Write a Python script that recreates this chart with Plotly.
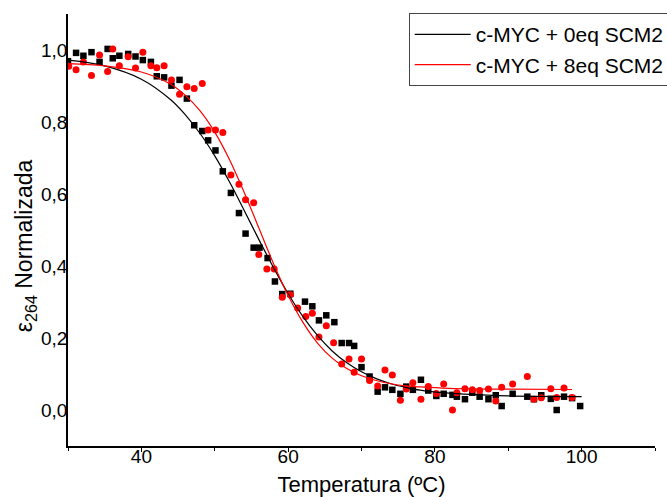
import plotly.graph_objects as go

# Measured points: c-MYC + 0eq SCM2 (black squares)
t_0eq = [30.0, 31.1, 32.1, 33.2, 34.3, 35.4, 36.1, 37.0, 38.2, 39.2, 40.2, 41.3, 42.1, 43.1,
         44.1, 45.2, 46.2, 47.2, 48.3, 49.1, 50.1, 51.1, 52.2, 53.3, 54.2, 55.3, 56.1, 57.2,
         58.2, 59.2, 60.3, 62.3, 63.3, 64.2, 65.2, 66.3, 67.3, 68.3, 69.0, 70.0, 71.1, 72.2,
         73.2, 74.2, 75.3, 76.1, 77.0, 78.1, 79.1, 80.2, 81.2, 82.4, 83.0, 84.1, 85.1, 86.1,
         87.3, 88.3, 89.1, 90.6, 92.6, 93.5, 94.5, 95.8, 96.6, 97.6, 98.7, 99.8]
e_0eq = [0.969, 0.992, 0.984, 0.994, 0.967, 1.003, 0.977, 0.984, 0.989, 0.982, 0.972, 0.967,
         0.927, 0.924, 0.901, 0.917, 0.865, 0.791, 0.775, 0.749, 0.721, 0.663, 0.603, 0.547,
         0.490, 0.451, 0.451, 0.422, 0.357, 0.322, 0.323, 0.301, 0.288, 0.249, 0.263, 0.244,
         0.186, 0.186, 0.178, 0.119, 0.093, 0.051, 0.063, 0.056, 0.045, 0.065, 0.056, 0.084,
         0.054, 0.039, 0.045, 0.042, 0.037, 0.030, 0.048, 0.037, 0.030, 0.041, 0.011, 0.045,
         0.037, 0.030, 0.041, 0.031, 0.000, 0.037, 0.033, 0.011]

# Measured points: c-MYC + 8eq SCM2 (red circles)
t_8eq = [30.1, 31.1, 32.1, 33.2, 34.3, 35.4, 36.1, 37.0, 38.2, 39.2, 40.2, 41.3, 42.1, 43.1,
         44.1, 45.2, 46.2, 47.2, 48.3, 49.1, 50.1, 51.1, 52.2, 53.3, 54.2, 55.3, 56.0, 57.1,
         58.1, 59.2, 60.3, 61.3, 62.4, 63.3, 64.2, 65.2, 66.2, 67.3, 68.3, 69.0, 70.0, 71.1,
         72.2, 73.2, 74.2, 75.3, 76.1, 77.0, 78.1, 79.1, 80.2, 81.2, 82.4, 83.0, 84.1, 85.1,
         86.1, 87.3, 88.3, 89.1, 90.6, 92.6, 93.5, 94.5, 95.8, 96.6, 97.6, 98.7]
e_8eq = [0.955, 0.945, 0.967, 0.929, 0.986, 0.940, 1.003, 0.956, 0.981, 0.950, 0.994, 0.956,
         0.951, 0.956, 0.917, 0.877, 0.898, 0.893, 0.907, 0.778, 0.778, 0.771, 0.653, 0.627,
         0.584, 0.576, 0.432, 0.392, 0.392, 0.313, 0.320, 0.283, 0.260, 0.269, 0.203, 0.234,
         0.187, 0.128, 0.142, 0.105, 0.142, 0.082, 0.067, 0.111, 0.097, 0.027, 0.058, 0.076,
         0.030, 0.065, 0.046, 0.072, 0.000, 0.048, 0.059, 0.056, 0.054, 0.058, 0.025, 0.063,
         0.072, 0.093, 0.030, 0.034, 0.059, 0.035, 0.061, 0.035]

# Fitted curves
fit_t_0eq = [30, 35, 40, 44, 46, 48, 50, 52, 54, 56, 58, 60, 62, 64, 66, 68, 70, 72, 74, 76,
             78, 81, 84, 90, 100]
fit_e_0eq = [0.972, 0.956, 0.919, 0.862, 0.820, 0.768, 0.706, 0.634, 0.555, 0.474, 0.396,
             0.323, 0.260, 0.207, 0.164, 0.131, 0.106, 0.087, 0.073, 0.063, 0.055, 0.048,
             0.044, 0.039, 0.037]
fit_t_8eq = [30, 35, 40, 44, 46, 48, 50, 52, 54, 56, 58, 60, 62, 64, 66, 68, 70, 72, 74, 76,
             78, 81, 84, 90, 98.7]
fit_e_8eq = [0.962, 0.956, 0.939, 0.905, 0.874, 0.831, 0.772, 0.696, 0.605, 0.506, 0.407,
             0.318, 0.244, 0.186, 0.144, 0.115, 0.095, 0.082, 0.073, 0.067, 0.064, 0.061,
             0.059, 0.058, 0.057]

series_names = ["c-MYC + 0eq SCM2", "c-MYC + 8eq SCM2"]
x_ticks = [40, 60, 80, 100]

FONT = "Liberation Sans, Arial, sans-serif"

# The figure is a little wider than the 667 px window so that, as in the
# reference, the legend box runs off the right edge of the picture.
FIG_W, FIG_H = 690, 497
ML, MR, MT, MB = 68, FIG_W - 655.5, 14, 51
PLOT_W = FIG_W - ML - MR

fig = go.Figure()
fig.add_trace(go.Scatter(x=t_0eq, y=e_0eq, mode="markers", showlegend=False,
                         marker=dict(symbol="square", size=6.5, color="black")))
fig.add_trace(go.Scatter(x=t_8eq, y=e_8eq, mode="markers", showlegend=False,
                         marker=dict(symbol="circle", size=7, color="#ff0000")))
fig.add_trace(go.Scatter(x=fit_t_0eq, y=fit_e_0eq, mode="lines", name=series_names[0],
                         line=dict(color="black", width=1.2, shape="spline", smoothing=1)))
fig.add_trace(go.Scatter(x=fit_t_8eq, y=fit_e_8eq, mode="lines", name=series_names[1],
                         line=dict(color="#ff0000", width=1.2, shape="spline", smoothing=1)))

fig.update_layout(
    width=FIG_W, height=FIG_H,
    margin=dict(l=ML, r=MR, t=MT, b=MB),
    paper_bgcolor="white", plot_bgcolor="white",
    separators=", ",
    font=dict(family=FONT, color="black"),
    legend=dict(x=(409 - ML) / PLOT_W, y=1.002, xanchor="left", yanchor="top",
                bordercolor="#444", borderwidth=1, bgcolor="white",
                font=dict(size=21, family=FONT, color="black"),
                itemwidth=56, tracegroupgap=0),
    xaxis=dict(range=[30, 110], tickvals=x_ticks, showline=True, linecolor="black",
               linewidth=1.5, ticks="outside", ticklen=4, tickcolor="black",
               minor=dict(dtick=10, tick0=0, ticks="outside", ticklen=3, tickcolor="black"),
               showgrid=False, zeroline=False, automargin=False, ticklabelstandoff=-12,
               tickfont=dict(size=19, family=FONT),
               title=dict(text="Temperatura (ºC)", font=dict(size=22, family=FONT), standoff=20)),
    yaxis=dict(range=[-0.1, 1.1], dtick=0.2, tick0=0, tickformat=".1f", showline=True,
               linecolor="black", linewidth=1.5, ticks="", showgrid=False, zeroline=False,
               automargin=False, ticklabelstandoff=-5,
               tickfont=dict(size=19, family=FONT),
               title=dict(text="ε<sub>264</sub> Normalizada&nbsp;&nbsp;&nbsp;&nbsp;&nbsp;",
                          font=dict(size=23, family=FONT), standoff=2)),
)

fig.write_html(
    "out.html", config={"displayModeBar": False},
    post_script=("document.body.style.margin='0';"
                 "document.body.style.overflow='hidden';"
                 "document.documentElement.style.overflow='hidden';"),
)
